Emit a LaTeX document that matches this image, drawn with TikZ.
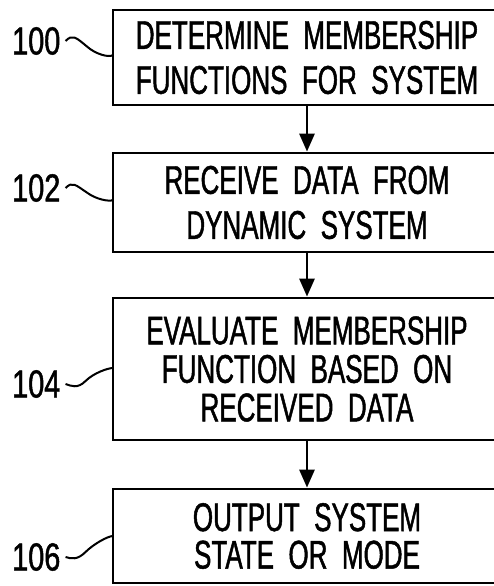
\documentclass[tikz,border=0pt]{standalone}
\usepackage{fontspec}
\newfontfamily\lettering{Liberation Sans}[FakeStretch=0.65,FakeBold=1.2]
\newfontfamily\refdigits{Liberation Sans}[FakeStretch=0.74,FakeBold=1.2]
\usetikzlibrary{arrows.meta}
\tikzset{
  stepbox/.style={draw, line width=2.8pt, minimum width=388pt, inner sep=0pt, align=center, font=\lettering},
  reflabel/.style={anchor=west, inner sep=0pt, font=\refdigits\fontsize{39}{39}\selectfont},
  flow/.style={line width=2.8pt, -{Triangle[width=15pt,length=18pt]}},
  lead/.style={line width=2pt}
}
\begin{document}
\begin{tikzpicture}[x=1pt,y=-1pt]
\useasboundingbox (0,0) rectangle (494,586);
\fill[white] (0,0) rectangle (494,586);
\begin{scope}
\clip (0,0) rectangle (494,586);
\node[stepbox, minimum height=95pt, font=\lettering\fontsize{40}{45}\selectfont] (b1) at (307,57.5) {DETERMINE\ \ MEMBERSHIP\\FUNCTIONS\ \ FOR\ \ SYSTEM};
\node[stepbox, minimum height=99pt, font=\lettering\fontsize{40}{45}\selectfont] (b2) at (307,202.5) {RECEIVE\ \ DATA\ \ FROM\\DYNAMIC\ \ SYSTEM};
\node[stepbox, minimum height=142pt, font=\lettering\fontsize{40}{38.5}\selectfont] (b3) at (307,369) {EVALUATE\ \ MEMBERSHIP\\FUNCTION\ \ BASED\ \ ON\\RECEIVED\ \ DATA};
\node[stepbox, minimum height=94pt, font=\lettering\fontsize{40}{37.5}\selectfont] (b4) at (307,536) {OUTPUT\ \ SYSTEM\\STATE\ \ OR\ \ MODE};
\end{scope}
\draw[flow] (b1.south) -- (b2.north);
\draw[flow] (b2.south) -- (b3.north);
\draw[flow] (b3.south) -- (b4.north);
\node[reflabel] (l1) at (12,41) {100};
\node[reflabel] (l2) at (12,188) {102};
\node[reflabel] (l3) at (12,384) {104};
\node[reflabel] (l4) at (12,557) {106};
\coordinate (e1) at (113,55);
\coordinate (e2) at (113,200);
\coordinate (e3) at (113,368);
\coordinate (e4) at (113,536);
\draw[lead] ([xshift=5pt]l1.east) .. controls +(7,-7) and +(-12,-10) .. +(22,6) .. controls +(8,7) and +(-4,3) .. (e1);
\draw[lead] ([xshift=5pt]l2.east) .. controls +(7,-7) and +(-12,-8) .. +(22,5) .. controls +(8,6) and +(-4,2) .. (e2);
\draw[lead] ([xshift=5pt]l3.east) .. controls +(6,2) and +(-8,8) .. +(20,-3) .. controls +(8,-8) and +(-5,0) .. (e3);
\draw[lead] ([xshift=5pt]l4.east) .. controls +(6,2) and +(-8,8) .. +(20,-5) .. controls +(8,-8) and +(-5,0) .. (e4);
\end{tikzpicture}
\end{document}
